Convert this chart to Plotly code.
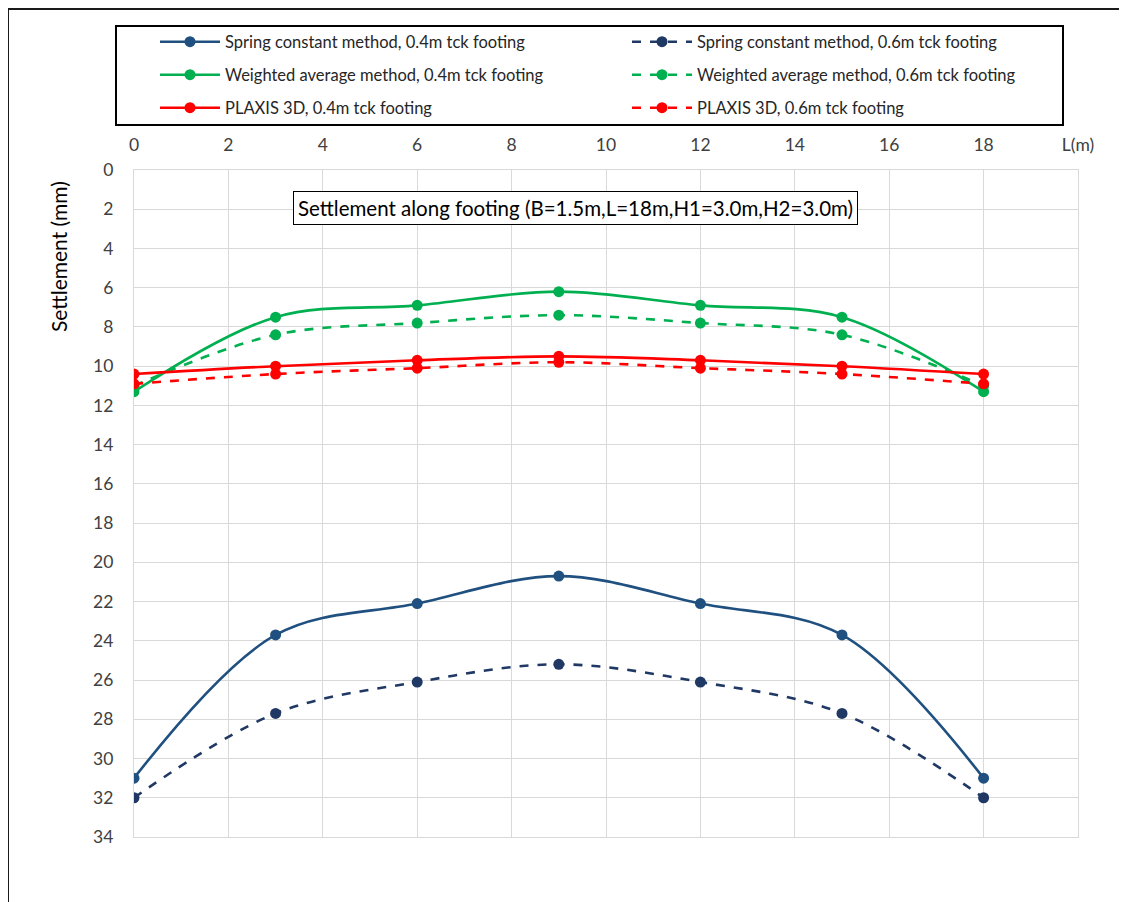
import plotly.graph_objects as go

# ---- data ----
L_pos = [0, 3, 6, 9, 12, 15, 18]
spring_04 = [31.0, 23.7, 22.1, 20.7, 22.1, 23.7, 31.0]
spring_06 = [32.0, 27.7, 26.1, 25.2, 26.1, 27.7, 32.0]
weighted_04 = [11.3, 7.5, 6.9, 6.2, 6.9, 7.5, 11.3]
weighted_06 = [11.0, 8.4, 7.8, 7.4, 7.8, 8.4, 11.0]
plaxis_04 = [10.4, 10.0, 9.7, 9.5, 9.7, 10.0, 10.4]
plaxis_06 = [10.9, 10.4, 10.1, 9.8, 10.1, 10.4, 10.9]

x_tickvals = [0, 2, 4, 6, 8, 10, 12, 14, 16, 18, 20]
x_ticktext = ["0", "2", "4", "6", "8", "10", "12", "14", "16", "18", "L(m)"]
y_tickvals = list(range(0, 35, 2))

FONT = "Lato"
OFF = 8  # page body margin
W, H = 1127 - OFF, 902 - OFF
L_PX, R_PX, T_PX, B_PX = 134, 1078, 170, 837  # viewport pixels of plot area


def px_x(p):
    return (p - L_PX) / (R_PX - L_PX)


def px_y(p):
    return (B_PX - p) / (B_PX - T_PX)


series = [
    ("Spring constant method, 0.4m tck footing", spring_04, "#1F5080", "solid", "legend"),
    ("Spring constant method, 0.6m tck footing", spring_06, "#1F3864", "dash", "legend2"),
    ("Weighted average method, 0.4m tck footing", weighted_04, "#00B050", "solid", "legend3"),
    ("Weighted average method, 0.6m tck footing", weighted_06, "#00B050", "dash", "legend4"),
    ("PLAXIS 3D, 0.4m tck footing", plaxis_04, "#FF0000", "solid", "legend5"),
    ("PLAXIS 3D, 0.6m tck footing", plaxis_06, "#FF0000", "dash", "legend6"),
]
legend_pos = {
    "legend": (155, 42), "legend2": (627, 42),
    "legend3": (155, 75), "legend4": (627, 75),
    "legend5": (155, 108), "legend6": (627, 108),
}

fig = go.Figure()
for name, vals, color, dash, leg in series:
    fig.add_trace(go.Scatter(
        x=L_pos, y=vals, name=name, mode="lines+markers",
        line=dict(color=color, width=2.6, dash=dash, shape="spline", smoothing=1.0),
        marker=dict(color=color, size=11, symbol="circle"),
        legend=leg,
    ))

legends = {}
for key, (lx, ly) in legend_pos.items():
    legends[key] = dict(
        x=px_x(lx), y=px_y(ly), xanchor="left", yanchor="middle",
        orientation="h", itemwidth=60,
        font=dict(family=FONT, size=16.5, color="#262626"),
        bgcolor="rgba(0,0,0,0)", borderwidth=0,
    )

fig.update_layout(
    width=W, height=H,
    margin=dict(l=L_PX - OFF, r=W - (R_PX - OFF), t=T_PX - OFF, b=H - (B_PX - OFF)),
    paper_bgcolor="white", plot_bgcolor="white",
    font=dict(family=FONT, color="#404040"),
    showlegend=True,
    **legends,
    xaxis=dict(
        range=[0, 20], side="top", tickvals=x_tickvals, ticktext=x_ticktext,
        showgrid=True, gridcolor="#D9D9D9", gridwidth=1.2,
        showline=True, linecolor="#D9D9D9", linewidth=1.2, mirror=True,
        zeroline=False, ticks="", ticklabelstandoff=11,
        tickfont=dict(family=FONT, size=17.5, color="#404040"),
    ),
    yaxis=dict(
        range=[34, 0], tickvals=y_tickvals,
        showgrid=True, gridcolor="#D9D9D9", gridwidth=1.2,
        showline=True, linecolor="#D9D9D9", linewidth=1.2, mirror=True,
        zeroline=False, ticks="", ticklabelstandoff=16,
        tickfont=dict(family=FONT, size=17.5, color="#404040"),
    ),
    shapes=[
        # outer frame
        dict(type="rect", xref="paper", yref="paper",
             x0=px_x(8), x1=px_x(1140), y0=px_y(915), y1=px_y(9),
             line=dict(color="#1a1a1a", width=2)),
        # legend box
        dict(type="rect", xref="paper", yref="paper",
             x0=px_x(116), x1=px_x(1063), y0=px_y(125), y1=px_y(26),
             line=dict(color="#000000", width=2)),
    ],
    annotations=[
        dict(text="Settlement along footing (B=1.5m,L=18m,H1=3.0m,H2=3.0m)",
             xref="paper", yref="paper", x=px_x(575), y=px_y(207.5),
             xanchor="center", yanchor="middle", showarrow=False,
             font=dict(family=FONT, size=20.5, color="#000000"),
             bordercolor="#000000", borderwidth=1, borderpad=4, bgcolor="white"),
        dict(text="Settlement (mm)", xref="paper", yref="paper",
             x=px_x(58), y=px_y(257), textangle=-90,
             xanchor="center", yanchor="middle", showarrow=False,
             font=dict(family=FONT, size=21, color="#000000")),
    ],
)

fig.write_html("out.html")
